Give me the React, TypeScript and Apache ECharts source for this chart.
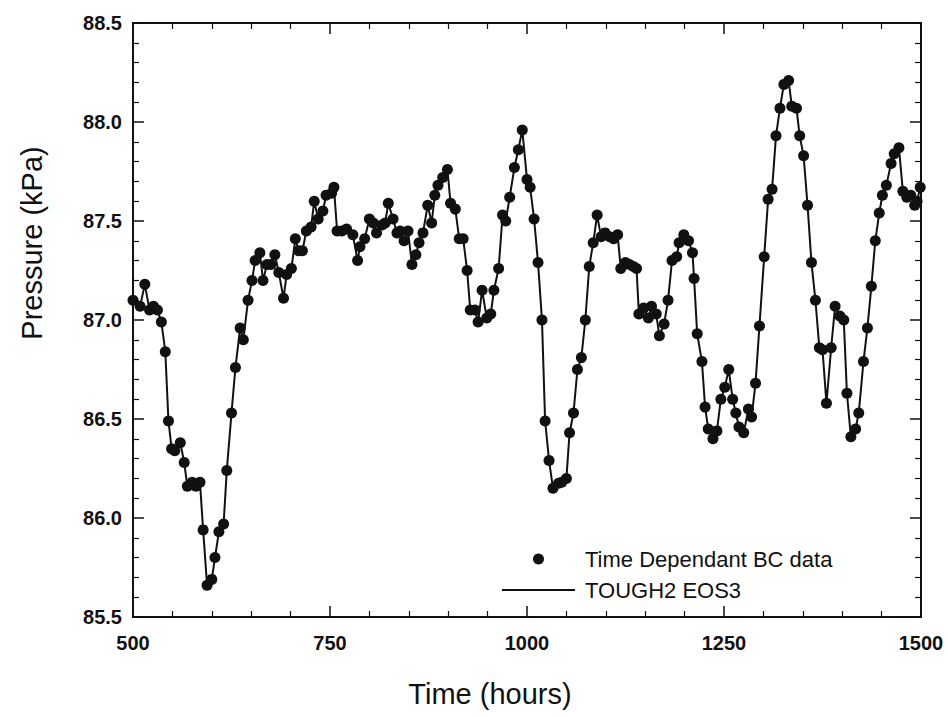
import React, { useEffect, useRef } from "react";
import * as echarts from "echarts";

const times: number[] = [
  500, 509, 515, 521, 526, 531, 536, 541, 545, 549, 553, 560, 565, 569, 575, 580, 585, 589, 594, 600,
  604, 609, 615, 619, 625, 630, 636, 640, 646, 651, 655, 661, 665, 670, 675, 680, 685, 691, 695, 701,
  706, 710, 715, 720, 726, 730, 735, 741, 745, 752, 755, 759, 765, 771, 779, 785, 788, 794, 800, 805,
  809, 816, 820, 824, 830, 835, 839, 844, 849, 854, 859, 863, 868, 874, 879, 883, 887, 893, 899, 903,
  909, 914, 919, 924, 928, 934, 938, 943, 949, 954, 958, 964, 969, 973, 978, 984, 989, 994, 1000, 1004,
  1009, 1014, 1019, 1023, 1028, 1033, 1040, 1044, 1050, 1054, 1059, 1064, 1069, 1074, 1079, 1084, 1089, 1094, 1099, 1105,
  1110, 1115, 1119, 1125, 1130, 1135, 1139, 1142, 1148, 1154, 1158, 1164, 1168, 1174, 1179, 1184, 1190, 1193, 1199, 1205,
  1210, 1212, 1216, 1222, 1226, 1230, 1236, 1241, 1246, 1251, 1256, 1261, 1265, 1269, 1275, 1281, 1285, 1290, 1295, 1301,
  1306, 1311, 1316, 1321, 1326, 1332, 1336, 1342, 1346, 1351, 1356, 1361, 1366, 1371, 1375, 1380, 1386, 1391, 1397, 1402,
  1406, 1411, 1417, 1421, 1427, 1432, 1437, 1442, 1447, 1451, 1456, 1462, 1466, 1472, 1477, 1482, 1487, 1492, 1495, 1499,
];

const pressures: number[] = [
  87.10, 87.07, 87.18, 87.05, 87.07, 87.05, 86.99, 86.84, 86.49, 86.35, 86.34, 86.38, 86.28, 86.16, 86.18, 86.16, 86.18, 85.94, 85.66, 85.69,
  85.80, 85.93, 85.97, 86.24, 86.53, 86.76, 86.96, 86.90, 87.10, 87.20, 87.30, 87.34, 87.20, 87.28, 87.28, 87.33, 87.24, 87.11, 87.23, 87.26,
  87.41, 87.35, 87.35, 87.45, 87.47, 87.60, 87.51, 87.55, 87.63, 87.64, 87.67, 87.45, 87.45, 87.46, 87.43, 87.30, 87.37, 87.41, 87.51, 87.49,
  87.44, 87.48, 87.49, 87.59, 87.51, 87.44, 87.45, 87.40, 87.45, 87.28, 87.33, 87.39, 87.44, 87.58, 87.49, 87.63, 87.68, 87.72, 87.76, 87.59,
  87.56, 87.41, 87.41, 87.25, 87.05, 87.05, 86.99, 87.15, 87.01, 87.03, 87.15, 87.26, 87.53, 87.50, 87.62, 87.77, 87.86, 87.96, 87.71, 87.67,
  87.51, 87.29, 87.00, 86.49, 86.29, 86.15, 86.175, 86.18, 86.20, 86.43, 86.53, 86.75, 86.81, 87.00, 87.27, 87.39, 87.53, 87.42, 87.44, 87.42,
  87.41, 87.43, 87.26, 87.29, 87.28, 87.27, 87.26, 87.03, 87.06, 87.01, 87.07, 87.03, 86.92, 86.98, 87.10, 87.30, 87.32, 87.39, 87.43, 87.40,
  87.34, 87.21, 86.93, 86.79, 86.56, 86.45, 86.40, 86.44, 86.60, 86.66, 86.75, 86.60, 86.53, 86.46, 86.43, 86.55, 86.51, 86.68, 86.97, 87.32,
  87.61, 87.66, 87.93, 88.07, 88.19, 88.21, 88.08, 88.07, 87.93, 87.83, 87.58, 87.29, 87.10, 86.86, 86.85, 86.58, 86.86, 87.07, 87.02, 87.00,
  86.63, 86.41, 86.45, 86.53, 86.79, 86.96, 87.17, 87.40, 87.54, 87.63, 87.68, 87.79, 87.84, 87.87, 87.65, 87.62, 87.63, 87.58, 87.60, 87.67,
];

const seriesNames: string[] = ["Time Dependant BC data", "TOUGH2 EOS3"];
const xTitle = "Time (hours)";
const yTitle = "Pressure (kPa)";
const xRange: number[] = [500, 1500, 250];
const yRange: number[] = [85.5, 88.5, 0.5];

const FONT = "'Liberation Sans', Arial, Helvetica, sans-serif";
const INK = "#111111";

export default function App() {
  const ref = useRef<HTMLDivElement>(null);

  useEffect(() => {
    if (!ref.current) return;
    const chart = echarts.init(ref.current, undefined, { renderer: "svg" });
    const pts = times.map((t, i) => [t, pressures[i]]);

    const axisCommon = {
      axisLine: { show: true, onZero: false, lineStyle: { color: INK, width: 2 } },
      axisTick: { show: true, inside: true, length: 11, lineStyle: { color: INK, width: 1.5 } },
      minorTick: { show: true, splitNumber: 5, length: 6, lineStyle: { color: INK, width: 1.2 } },
      splitLine: { show: false },
      minorSplitLine: { show: false },
    };

    chart.setOption({
      animation: false,
      backgroundColor: "#ffffff",
      textStyle: { fontFamily: FONT },
      grid: { left: 133, right: 27, top: 23, bottom: 100, containLabel: false },
      xAxis: [
        {
          type: "value",
          min: xRange[0],
          max: xRange[1],
          interval: xRange[2],
          position: "bottom",
          ...axisCommon,
          axisLabel: {
            show: true,
            margin: 16,
            color: INK,
            fontSize: 20,
            fontWeight: "bold",
            fontFamily: FONT,
            formatter: (v: number) => String(v),
          },
        },
        {
          type: "value",
          min: xRange[0],
          max: xRange[1],
          interval: xRange[2],
          position: "top",
          ...axisCommon,
          axisLabel: { show: false },
        },
      ],
      yAxis: [
        {
          type: "value",
          min: yRange[0],
          max: yRange[1],
          interval: yRange[2],
          position: "left",
          ...axisCommon,
          axisLabel: {
            show: true,
            margin: 11,
            color: INK,
            fontSize: 20,
            fontWeight: "bold",
            fontFamily: FONT,
            formatter: (v: number) => v.toFixed(1),
          },
        },
        {
          type: "value",
          min: yRange[0],
          max: yRange[1],
          interval: yRange[2],
          position: "right",
          ...axisCommon,
          axisLabel: { show: false },
        },
      ],
      legend: {
        show: true,
        orient: "vertical",
        left: 497,
        top: 543,
        itemWidth: 73,
        itemHeight: 11,
        itemGap: 9,
        data: [
          { name: seriesNames[0], icon: "circle" },
          { name: seriesNames[1], icon: "path://M0,0L73,0L73,2L0,2Z" },
        ],
        textStyle: { color: INK, fontSize: 22, fontFamily: FONT, padding: [0, 0, 0, 5] },
      },
      graphic: [
        {
          type: "text",
          x: 32,
          y: 243,
          rotation: Math.PI / 2,
          style: {
            text: yTitle,
            font: `29px ${FONT}`,
            fill: INK,
            align: "center",
            verticalAlign: "middle",
          },
        },
        {
          type: "text",
          x: 490,
          y: 694,
          style: {
            text: xTitle,
            font: `29px ${FONT}`,
            fill: INK,
            align: "center",
            verticalAlign: "middle",
          },
        },
      ],
      series: [
        {
          name: seriesNames[1],
          type: "line",
          xAxisIndex: 0,
          yAxisIndex: 0,
          data: pts,
          symbol: "none",
          lineStyle: { color: INK, width: 2 },
          itemStyle: { color: INK },
          z: 2,
        },
        {
          name: seriesNames[0],
          type: "scatter",
          xAxisIndex: 0,
          yAxisIndex: 0,
          data: pts,
          symbol: "circle",
          symbolSize: 11,
          itemStyle: { color: INK, opacity: 1 },
          z: 3,
        },
      ],
    });

    return () => chart.dispose();
  }, []);

  return (
    <div
      ref={ref}
      style={{ position: "fixed", left: 0, top: 0, width: 948, height: 717, background: "#fff" }}
    />
  );
}
